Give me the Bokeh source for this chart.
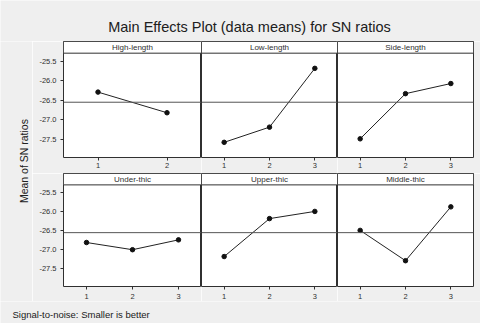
from bokeh.plotting import figure
from bokeh.layouts import column, row, gridplot
from bokeh.models import Range1d, FixedTicker, BoxAnnotation, Label, Span, PrintfTickFormatter
from bokeh.embed import file_html
from bokeh.resources import INLINE
import math

title_text = "Main Effects Plot (data means) for SN ratios"
ylabel_text = "Mean of SN ratios"
footer_text = "Signal-to-noise: Smaller is better"

factors = ["High-length", "Low-length", "Side-length", "Under-thic", "Upper-thic", "Middle-thic"]
levels = [[1, 2], [1, 2, 3], [1, 2, 3], [1, 2, 3], [1, 2, 3], [1, 2, 3]]
means = [
    [-26.29, -26.82],
    [-27.58, -27.19, -25.68],
    [-27.49, -26.33, -26.07],
    [-26.81, -27.00, -26.74],
    [-27.18, -26.18, -25.99],
    [-26.49, -27.29, -25.87],
]
grand_mean = -26.55
y_ticks = [-27.5, -27.0, -26.5, -26.0, -25.5]

BG = "#efefef"
FONT = "Liberation Sans"
DARK = "#303030"

Y_LOW, Y_DATA_TOP, Y_HIGH = -27.97, -25.29, -24.99

def panel(i, width, height, left_border, right_border, bottom_border, standoff, show_y):
    n = len(levels[i])
    p = figure(width=width, height=height, output_backend="svg", toolbar_location=None,
               x_range=Range1d(0.5, n + 0.5), y_range=Range1d(Y_LOW, Y_HIGH),
               min_border=0, min_border_left=left_border, min_border_right=right_border,
               min_border_bottom=bottom_border)
    p.background_fill_color = "white"
    p.border_fill_color = BG
    p.outline_line_color = DARK
    p.outline_line_width = 1
    p.grid.visible = False
    p.xaxis.ticker = FixedTicker(ticks=levels[i])
    p.xaxis.axis_line_color = None
    p.xaxis.major_tick_in = 0
    p.xaxis.major_tick_out = 3
    p.xaxis.minor_tick_line_color = None
    p.xaxis.major_tick_line_color = DARK
    p.xaxis.major_label_text_font = FONT
    p.xaxis.major_label_text_font_size = "7.5px"
    p.xaxis.major_label_text_color = DARK
    p.xaxis.major_label_standoff = standoff
    if show_y:
        p.yaxis.ticker = FixedTicker(ticks=y_ticks)
        p.yaxis.formatter = PrintfTickFormatter(format="%.1f")
        p.yaxis.axis_line_color = None
        p.yaxis.major_tick_in = 0
        p.yaxis.major_tick_out = 3
        p.yaxis.minor_tick_line_color = None
        p.yaxis.major_tick_line_color = DARK
        p.yaxis.major_label_text_font = FONT
        p.yaxis.major_label_text_font_size = "7.5px"
        p.yaxis.major_label_text_color = DARK
        p.yaxis.major_label_standoff = 4
    else:
        p.yaxis.visible = False
    p.add_layout(Span(location=grand_mean, dimension="width", line_color="#555555", line_width=1))
    p.line(levels[i], means[i], line_color="#222222", line_width=1)
    p.scatter(levels[i], means[i], size=4.5, color="#111111")
    p.add_layout(BoxAnnotation(bottom=Y_DATA_TOP, fill_color="white", fill_alpha=1.0,
                               line_color=DARK, line_width=1, line_alpha=1.0))
    p.add_layout(Label(x=(n + 1) / 2, y=(Y_DATA_TOP + Y_HIGH) / 2, text=factors[i],
                       text_align="center", text_baseline="middle", text_font=FONT,
                       text_font_size="8px", text_color=DARK))
    return p

LB = 31
RB = 7
widths = [LB + 138, 136, 136 + RB]
row1 = [panel(i, widths[i], 132, LB if i == 0 else 0, RB if i == 2 else 0, 16, 2, i == 0)
        for i in range(3)]
row2 = [panel(i + 3, widths[i], 128, LB if i == 0 else 0, RB if i == 2 else 0, 14, 4, i == 0)
        for i in range(3)]
grid = gridplot([row1, row2], toolbar_location=None)

def text_fig(w, h):
    f = figure(width=w, height=h, output_backend="svg", toolbar_location=None,
               x_range=Range1d(0, 1), y_range=Range1d(0, 1), min_border=0)
    f.axis.visible = False
    f.grid.visible = False
    f.outline_line_color = None
    f.background_fill_color = BG
    f.border_fill_color = BG
    return f

tf = text_fig(480, 41)
tf.add_layout(Label(x=249 / 480, y=0.36, text=title_text, text_align="center",
                    text_baseline="middle", text_font=FONT, text_font_size="14.5px",
                    text_color="#202020"))

yf = text_fig(32, 260)
yf.add_layout(Label(x=0.72, y=0.54, text=ylabel_text, angle=math.pi / 2, text_align="center",
                    text_baseline="middle", text_font=FONT, text_font_size="10.5px",
                    text_color="#202020"))

ff = text_fig(480, 22)
ff.add_layout(Label(x=12 / 480, y=0.42, text=footer_text, text_align="left",
                    text_baseline="middle", text_font=FONT, text_font_size="9.5px",
                    text_color="#202020"))

layout = column(tf, row(yf, grid), ff)

open("out.html", "w").write(file_html(layout, INLINE))
